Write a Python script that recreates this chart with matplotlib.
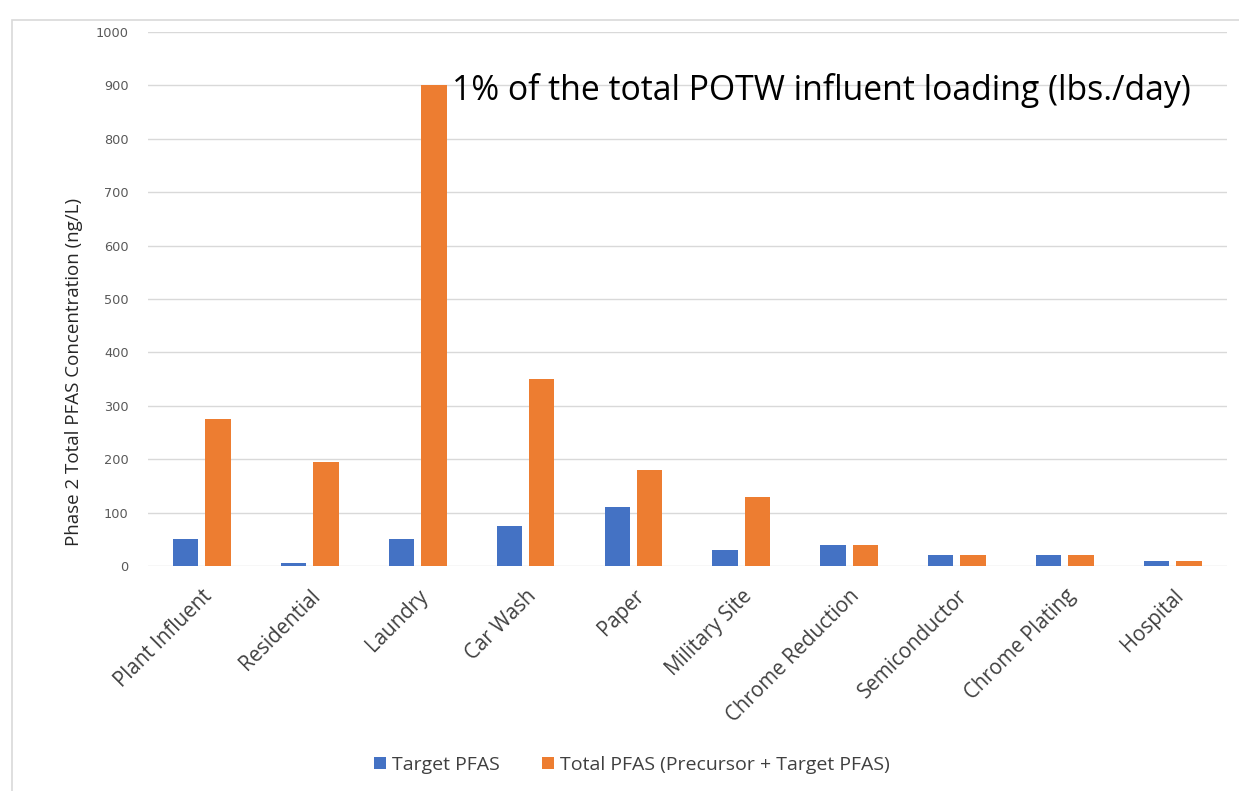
import matplotlib.pyplot as plt
import matplotlib.transforms as mtransforms
import numpy as np
from matplotlib.patches import Rectangle

categories = ["Plant Influent", "Residential", "Laundry", "Car Wash", "Paper",
              "Military Site", "Chrome Reduction", "Semiconductor",
              "Chrome Plating", "Hospital"]
target_pfas = [50, 5, 50, 75, 110, 30, 40, 20, 20, 10]
total_pfas = [275, 195, 900, 350, 180, 130, 40, 20, 20, 10]
y_ticks = [0, 100, 200, 300, 400, 500, 600, 700, 800, 900, 1000]

blue = "#4472C4"
orange = "#ED7D31"

fig = plt.figure(figsize=(12.39, 7.91), dpi=100)
ax = fig.add_axes([0.1195, 0.2845, 0.8705, 0.675])

# outer chart border
fig.patches.append(Rectangle((12 / 1239, -0.1), 1.2, 1 - 20 / 791 + 0.1,
                             transform=fig.transFigure, fill=False,
                             edgecolor="#d9d9d9", linewidth=1.2))

x = np.arange(len(categories))
w = 0.235
ax.bar(x - 0.15, target_pfas, w, color=blue, label="Target PFAS", zorder=3)
ax.bar(x + 0.15, total_pfas, w, color=orange,
       label="Total PFAS (Precursor + Target PFAS)", zorder=3)

ax.set_xlim(-0.5, len(categories) - 0.5)
ax.set_ylim(0, 1000)
ax.set_yticks(y_ticks)
ax.set_yticklabels([str(t) for t in y_ticks], fontsize=9.3, color="#595959",
                   family="DejaVu Sans")
ax.grid(axis="y", color="#d9d9d9", linewidth=1, zorder=0)
ax.tick_params(length=0)
ax.tick_params(axis="y", pad=14)
ax.tick_params(axis="x", pad=14)
for s in ax.spines.values():
    s.set_visible(False)

ax.set_xticks(x)
ax.set_xticklabels(categories, rotation=45, ha="right", rotation_mode="anchor",
                   fontsize=14.8, color="#404040", family="Open Sans")

ax.set_ylabel("Phase 2 Total PFAS Concentration (ng/L)", fontsize=13.5,
              color="#262626", family="Open Sans")
ax.yaxis.set_label_coords(-0.06, 0.363)

ax.text((452 - 148) / 1079, 891,
        "1% of the total POTW influent loading (lbs./day)",
        transform=mtransforms.blended_transform_factory(ax.transAxes, ax.transData),
        fontsize=24.3, color="black", family="Open Sans", va="center",
        ha="left")

fig.legend(loc="center", bbox_to_anchor=(632 / 1239, 1 - 765 / 791),
           ncol=2, frameon=False, handlelength=0.6,
           handleheight=0.6, columnspacing=2.2, handletextpad=0.3,
           prop={"family": "Open Sans", "size": 14})
for t in fig.legends[0].get_texts():
    t.set_color("#404040")

fig.savefig("out.png", dpi=100)
